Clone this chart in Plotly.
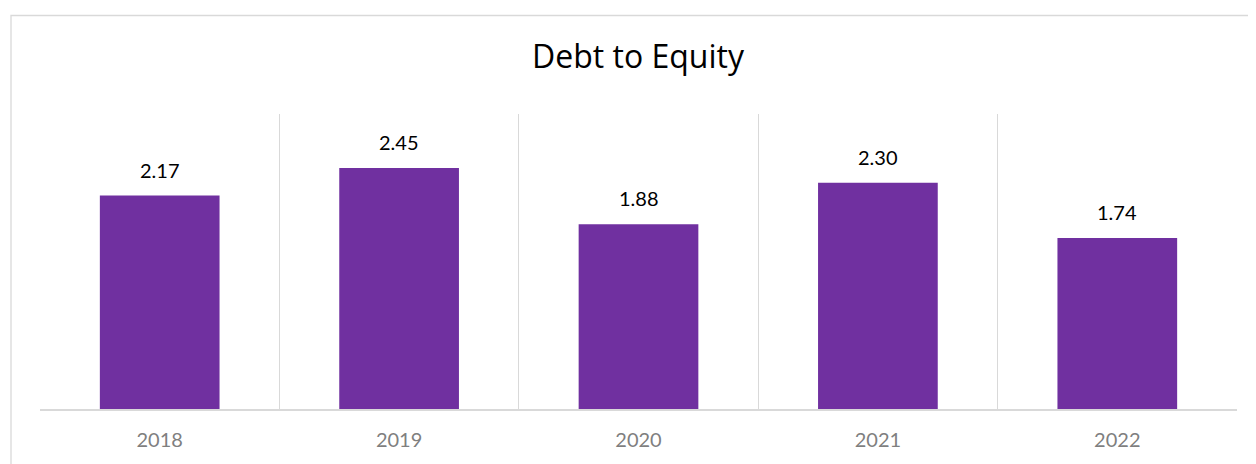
import plotly.graph_objects as go

years = ["2018", "2019", "2020", "2021", "2022"]
debt_to_equity = [2.17, 2.45, 1.88, 2.30, 1.74]
labels = ["2.17", "2.45", "1.88", "2.30", "1.74"]

W, H = 1256, 464
OFF = 8  # page offset of the rendered figure
L, R, T, B = 40 - OFF, 1237 - OFF, 114 - OFF, 409 - OFF

fig = go.Figure()
fig.add_trace(go.Bar(
    x=years, y=debt_to_equity,
    marker=dict(color="#7030A0", line=dict(width=0)),
    hoverinfo="x+y",
))

for i, (y, t) in enumerate(zip(debt_to_equity, labels)):
    fig.add_annotation(x=i, y=y, text=t, showarrow=False, yanchor="bottom",
                       yshift=12, font=dict(family="Lato", size=20, color="#000000"))

# chart outer border (extends beyond visible window on right/bottom)
pw, ph = R - L, B - T
fig.add_shape(type="rect", xref="paper", yref="paper",
              x0=(11 - OFF - L) / pw, x1=(1262 - L) / pw,
              y0=(B - 470) / ph, y1=(B - (15.5 - OFF)) / ph,
              line=dict(color="#d9d9d9", width=1.3), fillcolor="rgba(0,0,0,0)", layer="below")

fig.update_layout(
    width=W, height=H,
    margin=dict(l=L, r=W - R, t=T, b=H - B, pad=0),
    paper_bgcolor="white", plot_bgcolor="white",
    bargap=0.5,
    showlegend=False,
    title=dict(text="Debt to Equity", x=(638 - OFF) / W, xanchor="center",
               y=1 - (57 - OFF) / H, yanchor="middle", yref="container",
               font=dict(family="Open Sans", size=32, color="#000000")),
    xaxis=dict(type="category", tickson="boundaries", showgrid=True,
               gridcolor="#d9d9d9", gridwidth=1.3, showline=True, linecolor="#d9d9d9",
               linewidth=1.5, ticks="", ticklabelstandoff=12,
               tickfont=dict(family="Lato", size=20, color="#7f7f7f"),
               range=[-0.5, 4.5], fixedrange=True),
    yaxis=dict(range=[0, 3], showgrid=False, showticklabels=False, zeroline=False,
               showline=False, ticks="", fixedrange=True),
)

fig.write_html("out.html")
